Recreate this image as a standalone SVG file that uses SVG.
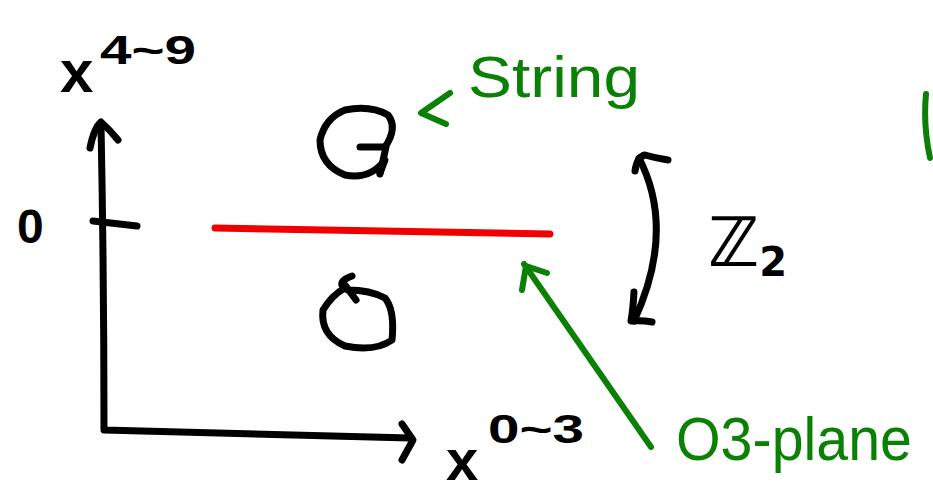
<svg xmlns="http://www.w3.org/2000/svg" width="933" height="494" viewBox="0 0 933 494">
<style>
.ink{fill:none;stroke:#000;stroke-width:7;stroke-linecap:round;stroke-linejoin:round}
.grn{fill:none;stroke:#0a8005;stroke-width:6;stroke-linecap:round;stroke-linejoin:round}
.red{fill:none;stroke:#f00000;stroke-width:7;stroke-linecap:round}
.tb{font-family:"Liberation Sans","DejaVu Sans",sans-serif;font-weight:bold;fill:#000}
.tg{font-family:"Liberation Sans","DejaVu Sans",sans-serif;fill:#0a8005}
</style>
<rect width="933" height="494" fill="#fff"/>
<g id="axes">
<path class="ink" d="M101,124 Q104,280 104,430 L410,438"/>
<path class="ink" d="M90,148 Q94,128 101,122 Q110,130 118,140"/>
<path class="ink" d="M402,424 L413,440 L402,460"/>
<path class="ink" d="M93,221 L137,226"/>
</g>
<g id="axis-labels">
<text class="tb" x="17" y="243" font-size="48">0</text>
<text class="tb" x="60" y="92" font-size="60">x</text>
<text class="tb" x="100" y="64" font-size="40" textLength="96" lengthAdjust="spacingAndGlyphs">4~9</text>
<text class="tb" x="446" y="480" font-size="58">x</text>
<text class="tb" x="488" y="443" font-size="40" textLength="96" lengthAdjust="spacingAndGlyphs">0~3</text>
</g>
<g id="o3-plane-line">
<path class="red" d="M215,228 L550,234"/>
</g>
<g id="string-top">
<path class="ink" d="M385,147 Q398,128 388,115 Q370,105 345,110 Q325,118 320,140 Q320,165 345,175 Q370,180 385,160 L380,173"/>
<path class="ink" d="M360,147 L386,147 L380,174"/>
</g>
<g id="string-bottom">
<path class="ink" d="M352,276 Q336,282 345,288 Q332,295 323,310 Q320,335 345,346 Q375,352 392,340 Q395,310 385,298 Q370,290 348,290"/>
<path class="ink" d="M345,285 L356,300"/>
</g>
<g id="z2">
<path class="ink" d="M639,158 Q676,230 634,321"/>
<path class="ink" d="M635,171 Q637,157 645,155 Q655,158 668,160"/>
<path class="ink" d="M634,292 Q633,310 631,321 Q642,320 652,322"/>
<text x="708" y="266" font-size="68" font-weight="bold" style="font-family:'DejaVu Sans',sans-serif" fill="#000">ℤ<tspan font-size="40" dy="10">2</tspan></text>
</g>
<g id="string-label">
<path class="grn" d="M450,93 L421,113 L446,124"/>
<text class="tg" x="468" y="97" font-size="58" textLength="172" lengthAdjust="spacingAndGlyphs">String</text>
</g>
<g id="o3-label">
<path class="grn" d="M651,447 L524,264"/>
<path class="grn" d="M522,290 L526,266 L547,273"/>
<text class="tg" x="676" y="460" font-size="62" textLength="236" lengthAdjust="spacingAndGlyphs">O3-plane</text>
</g>
<g id="edge-mark">
<path class="grn" d="M926,94 Q923,125 930,158"/>
</g>
</svg>
